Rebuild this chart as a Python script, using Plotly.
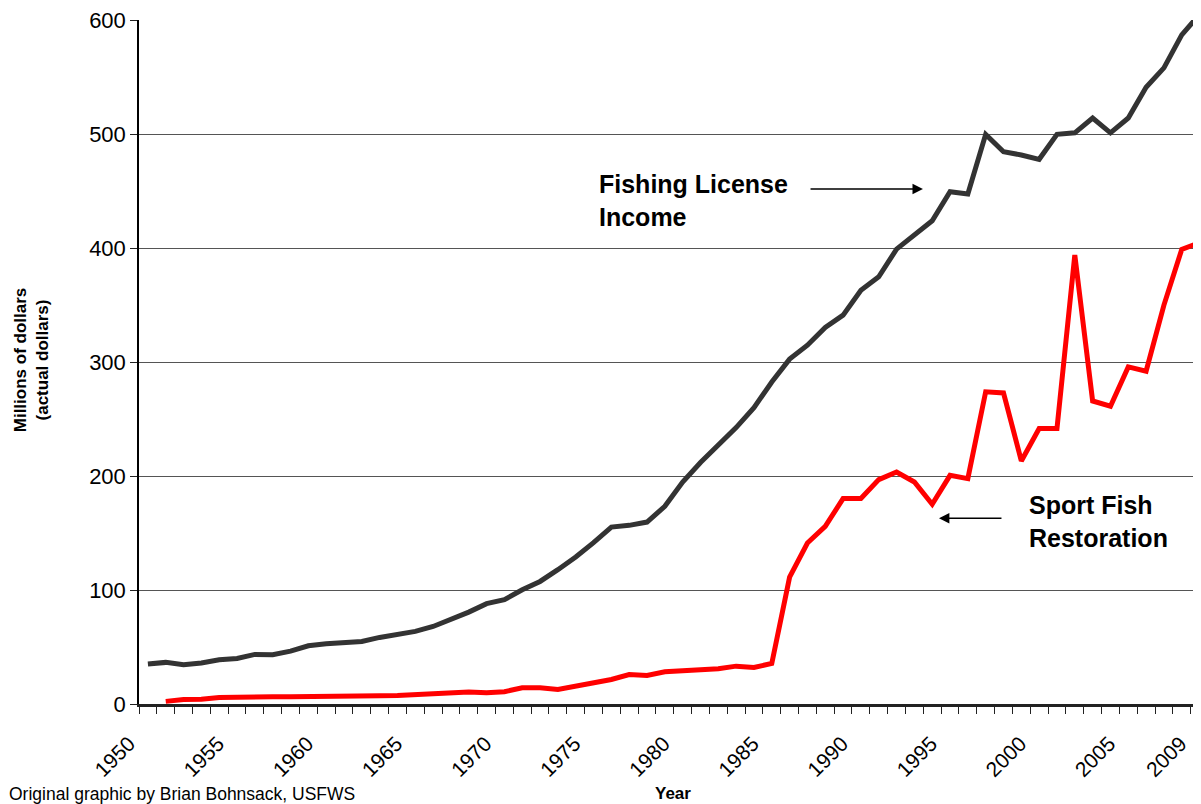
import plotly.graph_objects as go

# ---- data ----
years = list(range(1950, 2010))
fishing_license_income = [
    35, 36.5, 34.4, 36, 38.8, 40, 43.5, 43.2, 46.4, 51.1,
    52.8, 53.7, 54.9, 58.4, 61, 63.7, 68, 73.9, 80.6, 88,
    91.5, 100.2, 107.5, 117.8, 128.9, 141.5, 155.2, 156.7, 159.6, 173.4,
    194.7, 211.8, 226.4, 242.5, 260, 282.5, 302.5, 314.7, 330.3, 341.1,
    363, 374.7, 399, 411.9, 423.9, 449.4, 447.3, 499.7, 484.5, 481.6,
    477.8, 499.7, 501, 514, 501, 514, 541, 558, 587, 605,
]
sport_fish_restoration = [
    None, 2.3, 3.9, 4.1, 5.8, 6, 6.5, 6.3, 6.3, 6.3,
    6.9, 6.9, 7.1, 7.2, 7.5, 8.2, 8, 9.2, 10.5, 9.8,
    10.8, 14.2, 14.2, 12.7, 15.4, 17.7, 21.5, 25.9, 25, 28.2,
    29.1, 30.9, 30.9, 33.2, 32, 35.6, 111.3, 141.2, 155.8, 180.2,
    180.2, 196.8, 203.5, 194.7, 175.2, 200.6, 197.7, 273.8, 272.9, 213.2,
    241.6, 241.6, 393.8, 265.8, 261.2, 295.7, 291.9, 349.9, 398.8, 404.6,
]
label_years = [1950, 1955, 1960, 1965, 1970, 1975, 1980, 1985, 1990, 1995, 2000, 2005, 2009]
y_ticks = [0, 100, 200, 300, 400, 500, 600]

FONT = "Liberation Sans, Arial, sans-serif"

# category boundaries (ticks between categories, Excel style)
tick_pos = [y - 0.5 for y in range(1950, 2011)]
tick_txt = [str(y) if y in label_years else "" for y in range(1950, 2011)]

fig = go.Figure()
fig.add_trace(go.Scatter(
    x=years, y=fishing_license_income, mode="lines",
    line=dict(color="#333333", width=5), name="Fishing License Income",
    hoverinfo="x+y"))
fig.add_trace(go.Scatter(
    x=years, y=sport_fish_restoration, mode="lines",
    line=dict(color="#ff0000", width=5), name="Sport Fish Restoration",
    hoverinfo="x+y"))

# page body adds an 8px margin, so the figure is sized to fill the rest
fig.update_layout(
    width=1193, height=796,
    margin=dict(l=131, r=0, t=12, b=100),
    paper_bgcolor="white", plot_bgcolor="white",
    showlegend=False,
    font=dict(family=FONT, color="black"),
)
fig.update_xaxes(
    range=[1949.5, 2009.08],
    tickmode="array", tickvals=tick_pos, ticktext=tick_txt,
    tickangle=-45, tickfont=dict(size=21, family=FONT, color="black"),
    ticklabelshift=-10, ticklabelstandoff=9, ticklabeloverflow="allow",
    ticks="outside", ticklen=7, tickwidth=1.2, tickcolor="#222",
    showline=True, linecolor="#222", linewidth=3,
    showgrid=False, zeroline=False,
)
fig.update_yaxes(
    range=[0, 600],
    tickmode="array", tickvals=y_ticks,
    tickfont=dict(size=22, family=FONT, color="black"),
    ticklabeloverflow="allow",
    ticks="outside", ticklen=7, tickwidth=1.2, tickcolor="#222",
    showline=True, linecolor="black", linewidth=1.5,
    showgrid=True, gridcolor="#555555", gridwidth=1,
    zeroline=False,
)

annotations = [
    dict(text="<b>Millions of dollars<br>(actual dollars)</b>", xref="paper", yref="paper",
         x=-0.1017, y=0.504, xanchor="center", yanchor="middle", textangle=-90,
         showarrow=False, font=dict(size=17, family=FONT, color="black")),
    dict(text="<b>Year</b>", xref="paper", yref="paper", x=0.503, y=-0.114,
         xanchor="center", yanchor="top", showarrow=False,
         font=dict(size=17, family=FONT, color="black")),
    dict(text="Original graphic by Brian Bohnsack, USFWS", xref="paper", yref="paper",
         x=-0.1245, y=-0.1135, xanchor="left", yanchor="top", showarrow=False,
         font=dict(size=17.5, family=FONT, color="black")),
    dict(text="<b>Fishing License<br>Income</b>", xref="x", yref="y",
         x=1975.19, y=441.6, xanchor="left", yanchor="middle", align="left",
         showarrow=False, font=dict(size=25, family=FONT, color="black")),
    dict(text="<b>Sport Fish<br>Restoration</b>", xref="x", yref="y",
         x=1999.3, y=159.8, xanchor="left", yanchor="middle", align="left",
         showarrow=False, font=dict(size=25, family=FONT, color="black")),
    dict(text="", xref="x", yref="y", x=1993.48, y=451.7,
         axref="x", ayref="y", ax=1987.09, ay=451.7,
         showarrow=True, arrowhead=2, arrowsize=1.3, arrowwidth=1.6, arrowcolor="black",
         standoff=0),
    dict(text="", xref="x", yref="y", x=1994.38, y=162.9,
         axref="x", ayref="y", ax=1997.97, ay=162.9,
         showarrow=True, arrowhead=2, arrowsize=1.3, arrowwidth=1.6, arrowcolor="black",
         standoff=0),
]
fig.update_layout(annotations=annotations)

fig.write_html("out.html")
